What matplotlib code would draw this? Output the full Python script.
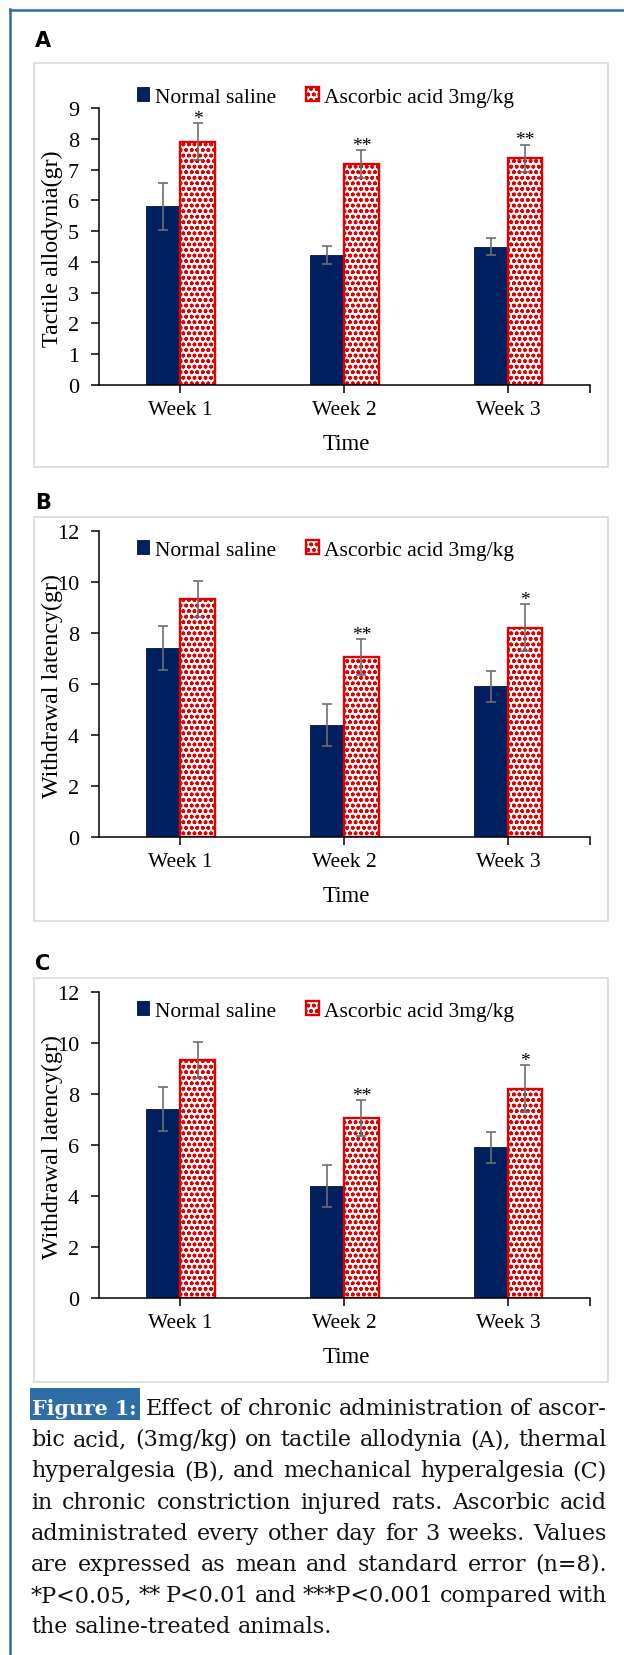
import matplotlib
matplotlib.use('Agg')
import matplotlib.pyplot as plt
from matplotlib.patches import Rectangle
from matplotlib.lines import Line2D
import numpy as np

# ---- data ----
weeks = ['Week 1', 'Week 2', 'Week 3']
series_names = ['Normal saline', 'Ascorbic acid 3mg/kg']

# A: tactile allodynia
a_saline = [5.8, 4.22, 4.5]
a_saline_se = [0.75, 0.3, 0.29]
a_ascorbic = [7.9, 7.18, 7.36]
a_ascorbic_se = [0.6, 0.44, 0.45]
a_stars = ['*', '**', '**']

# B: thermal hyperalgesia
b_saline = [7.42, 4.38, 5.91]
b_saline_se = [0.86, 0.83, 0.6]
b_ascorbic = [9.32, 7.06, 8.21]
b_ascorbic_se = [0.71, 0.7, 0.92]
b_stars = ['', '**', '*']

# C: mechanical hyperalgesia
c_saline = [7.42, 4.38, 5.91]
c_saline_se = [0.86, 0.83, 0.6]
c_ascorbic = [9.32, 7.06, 8.21]
c_ascorbic_se = [0.71, 0.7, 0.92]
c_stars = ['', '**', '*']

caption_lines = [
    'Effect of chronic administration of ascor-',
    'bic acid, (3mg/kg) on tactile allodynia (A), thermal',
    'hyperalgesia (B), and mechanical hyperalgesia (C)',
    'in chronic constriction injured rats. Ascorbic acid',
    'administrated every other day for 3 weeks. Values',
    'are expressed as mean and standard error (n=8).',
    '*P<0.05, ** P<0.01 and ***P<0.001 compared with',
    'the saline-treated animals.',
]

NAVY = '#002060'
RED = '#e00000'
GRAY = '#6e6e6e'
BLUE = '#2e6da8'

plt.rcParams['font.family'] = ['Liberation Serif', 'DejaVu Serif']
plt.rcParams['hatch.linewidth'] = 1.1

W, H = 624, 1656
fig = plt.figure(figsize=(W / 100, H / 100), dpi=100)


def px(x, y):
    # pixel position (from top-left) -> figure fraction
    return x / W, 1 - y / H


# outer blue border (left and top)
fig.add_artist(Line2D([9.5 / W, 9.5 / W], [0, 1 - 10 / H], color=BLUE, lw=1.8))
fig.add_artist(Line2D([9.5 / W, 1], [1 - 10.5 / H, 1 - 10.5 / H], color=BLUE, lw=1.8))


def draw_panel(letter, frame, axbox, legend_y, ylabel_y, time_y, letter_y,
               ymax, ystep, ylabel, saline, saline_se, asc, asc_se, stars):
    # light grey frame of the chart area
    ft, fb = frame
    fig.add_artist(Rectangle(px(34, fb), 574 / W, (fb - ft) / H, fill=False,
                             ec='#d9d9d9', lw=1.2, transform=fig.transFigure))
    at, ab = axbox
    ax = fig.add_axes([98.5 / W, 1 - ab / H, 491.5 / W, (ab - at) / H])
    x = np.arange(len(weeks))
    bw = 0.21
    ax.bar(x - bw / 2, saline, bw, color=NAVY, edgecolor='#00143d', lw=0.6, label=series_names[0])
    ax.bar(x + bw / 2, asc, bw, color='white', edgecolor=RED, hatch='ooo', lw=1.7, label=series_names[1])
    ax.errorbar(x - bw / 2, saline, yerr=saline_se, fmt='none', ecolor=GRAY, elinewidth=1.2,
                capsize=3.6, capthick=1.2)
    ax.errorbar(x + bw / 2, asc, yerr=asc_se, fmt='none', ecolor=GRAY, elinewidth=1.2,
                capsize=3.6, capthick=1.2)
    for xi, m, e, s in zip(x, asc, asc_se, stars):
        if s:
            ax.annotate(s, (xi + bw / 2, m + e), xytext=(0, -2.5), textcoords='offset points',
                        ha='center', va='bottom', fontsize=14)
    ax.set_xlim(-0.5, 2.5)
    ax.set_ylim(0, ymax)
    ax.set_yticks(np.arange(0, ymax + 0.1, ystep))
    ax.set_xticks(x, weeks)
    ax.set_xticks([2.5], minor=True)
    ax.tick_params(axis='x', which='both', length=6, width=1.1, pad=5, labelsize=15.5)
    ax.tick_params(axis='y', length=6, width=1.1, pad=8, labelsize=16)
    for sp in ['top', 'right']:
        ax.spines[sp].set_visible(False)
    for sp in ['left', 'bottom']:
        ax.spines[sp].set_linewidth(1.1)
    ax.patch.set_alpha(0)
    ax.legend(loc='center', bbox_to_anchor=px(325.5, legend_y), bbox_transform=fig.transFigure,
              ncol=2, frameon=False, fontsize=15.5, handlelength=0.6, handleheight=0.6,
              handletextpad=0.25, columnspacing=1.4, borderpad=0)
    fig.text(*px(52, ylabel_y), ylabel, rotation=90, ha='center', va='center', fontsize=17.3)
    fig.text(*px(346, time_y), 'Time', ha='center', va='center', fontsize=16.5)
    fig.text(*px(35, letter_y), letter, ha='left', va='baseline', fontsize=15,
             fontweight='bold', family='DejaVu Sans')
    return ax


draw_panel('A', (64, 468), (109, 386), 98, 249, 445, 47,
           9, 1, 'Tactile allodynia(gr)',
           a_saline, a_saline_se, a_ascorbic, a_ascorbic_se, a_stars)
draw_panel('B', (518, 922), (532, 838), 551, 686, 897, 509,
           12, 2, 'Withdrawal latency(gr)',
           b_saline, b_saline_se, b_ascorbic, b_ascorbic_se, b_stars)
draw_panel('C', (979, 1383), (993, 1299), 1012, 1147, 1358, 970,
           12, 2, 'Withdrawal latency(gr)',
           c_saline, c_saline_se, c_ascorbic, c_ascorbic_se, c_stars)

# ---- caption, justified ----
renderer = fig.canvas.get_renderer()
cap_kw = dict(family='DejaVu Serif', fontsize=16, color='#111111', va='baseline', ha='left')
left, right = 31, 607
base0, step = 1415, 31.2

fig.add_artist(Rectangle(px(30, 1421), 110 / W, 32 / H, fc=BLUE, ec='none',
                         transform=fig.transFigure))
fig.text(*px(32, base0), 'Figure 1:', family='DejaVu Serif', fontsize=14.8,
         fontweight='bold', color='white', va='baseline', ha='left')

space_w = (fig.text(0, 0, 'a a', **cap_kw).get_window_extent(renderer).width
           - fig.text(0, 0, 'aa', **cap_kw).get_window_extent(renderer).width)
fig.texts[-1].remove()
fig.texts[-1].remove()

for i, line in enumerate(caption_lines):
    y = base0 + i * step
    x0 = 146 if i == 0 else left
    words = line.split(' ')
    texts = [fig.text(0, 0, w, **cap_kw) for w in words]
    widths = [t.get_window_extent(renderer).width for t in texts]
    if i == len(caption_lines) - 1:
        gap = space_w
    else:
        gap = (right - x0 - sum(widths)) / (len(words) - 1)
    xc = x0
    for t, w in zip(texts, widths):
        t.set_position(px(xc, y))
        xc += w + gap

fig.savefig('out.png', dpi=100)
